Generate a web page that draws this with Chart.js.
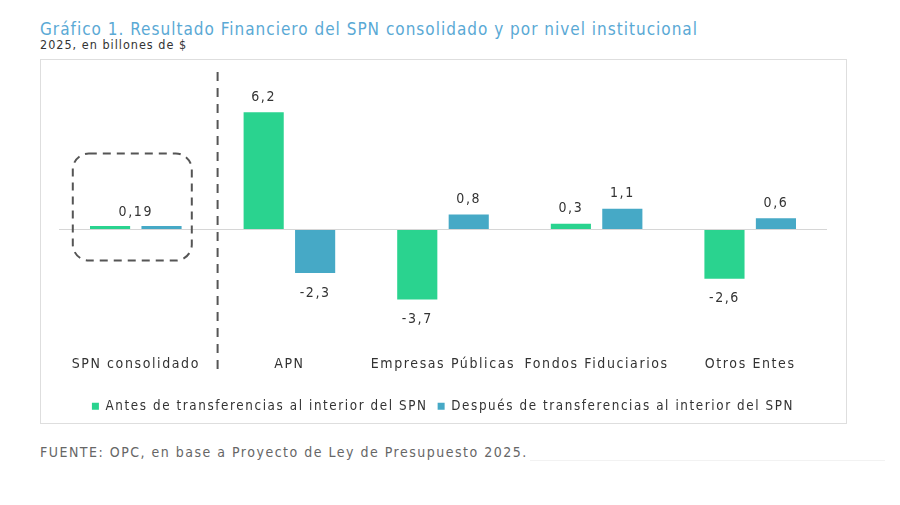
<!DOCTYPE html>
<html><head><meta charset="utf-8">
<script src="https://cdn.jsdelivr.net/npm/chart.js@4.4.1/dist/chart.umd.min.js"></script>
<style>
html,body{margin:0;padding:0;background:#fff;width:900px;height:505px;overflow:hidden;}
body{position:relative;font-family:"Liberation Sans Narrow","DejaVu Sans Condensed","Liberation Sans",sans-serif;}
#title{position:absolute;left:40px;top:19px;font-size:17px;color:#5aa9d5;letter-spacing:1.0px;white-space:nowrap;}
#sub{position:absolute;left:40px;top:37px;font-size:12.5px;color:#333;letter-spacing:1px;white-space:nowrap;}
#box{position:absolute;left:40px;top:59px;width:805px;height:363px;border:1px solid #dedede;}
#foot{position:absolute;left:40px;top:444px;font-size:14px;color:#666;letter-spacing:1.5px;white-space:nowrap;}
#footline{position:absolute;left:530px;top:460px;width:355px;height:1px;background:#f2f2f2;}
#wrap{position:absolute;left:0;top:0;width:900px;height:505px;}
</style></head>
<body>
<div id="title">Gráfico 1. Resultado Financiero del SPN consolidado y por nivel institucional</div>
<div id="sub">2025, en billones de $</div>
<div id="box"></div>
<div id="foot">FUENTE: OPC, en base a Proyecto de Ley de Presupuesto 2025.</div>
<div id="footline"></div>
<div id="wrap"><canvas id="c" width="900" height="505"></canvas></div>
<script>
const categories = ["SPN consolidado", "APN", "Empresas Públicas", "Fondos Fiduciarios", "Otros Entes"];
const antesValues = [0.19, 6.2, -3.7, 0.3, -2.6];
const despuesValues = [0.19, -2.3, 0.8, 1.1, 0.6];
const seriesNames = ["Antes de transferencias al interior del SPN", "Después de transferencias al interior del SPN"];

const GREEN = "#2ad38f", BLUE = "#46a9c6";
const FONT = '"Liberation Sans Narrow","DejaVu Sans Condensed","Liberation Sans",sans-serif';
const fmt = v => String(v).replace('.', ',');

const spacingPlugin = {
  id: 'spacing',
  beforeLayout(chart){ chart.ctx.letterSpacing = '1.6px'; },
  beforeDraw(chart){ chart.ctx.letterSpacing = '1.6px'; }
};

const decoPlugin = {
  id: 'deco',
  afterDatasetsDraw(chart){
    const ctx = chart.ctx, x = chart.scales.x, y = chart.scales.y;
    const y0 = y.getPixelForValue(0);
    ctx.save();
    ctx.font = '14px ' + FONT;
    ctx.fillStyle = '#333';
    ctx.textAlign = 'center';
    ctx.textBaseline = 'middle';
    chart.data.datasets.forEach((ds, di) => {
      const meta = chart.getDatasetMeta(di);
      meta.data.forEach((bar, i) => {
        const v = ds.data[i];
        if (i === 0) {
          if (di === 0) ctx.fillText(fmt(v), x.getPixelForValue(0), bar.y - 14);
          return;
        }
        if (v >= 0) ctx.fillText(fmt(v), bar.x, bar.y - 15);
        else ctx.fillText(fmt(v), bar.x, bar.y + 20);
      });
    });
    ctx.strokeStyle = '#555';
    ctx.lineWidth = 2;
    ctx.setLineDash([9, 7]);
    const sx = x.getPixelForValue(0.5) + 5;
    ctx.beginPath();
    ctx.moveTo(sx, 72); ctx.lineTo(sx, 370);
    ctx.stroke();
    const cx = x.getPixelForValue(0);
    const rx = cx - 63, ry = y0 - 76, rw = 119, rh = 107;
    ctx.setLineDash([8, 6]);
    ctx.beginPath();
    ctx.roundRect(rx, ry, rw, rh, 16);
    ctx.stroke();
    ctx.restore();
  }
};

new Chart(document.getElementById('c'), {
  type: 'bar',
  data: {
    labels: categories,
    datasets: [
      { label: seriesNames[0], data: antesValues, backgroundColor: GREEN, categoryPercentage: 0.67, barPercentage: 0.78 },
      { label: seriesNames[1], data: despuesValues, backgroundColor: BLUE, categoryPercentage: 0.67, barPercentage: 0.78 }
    ]
  },
  options: {
    responsive: false,
    animation: false,
    devicePixelRatio: 1,
    layout: { padding: { left: 59, right: 73, top: 97, bottom: 82 } },
    plugins: {
      legend: {
        position: 'bottom',
        labels: { boxWidth: 7, boxHeight: 7, color: '#333', font: { family: FONT, size: 13.3 }, padding: 10 }
      },
      tooltip: { enabled: false },
      title: { display: false }
    },
    scales: {
      x: {
        grid: { display: false, drawTicks: false },
        border: { display: false },
        ticks: { color: '#333', font: { family: FONT, size: 14 }, padding: 32, maxRotation: 0, autoSkip: false },
        afterFit: s => { s.height = 65.5; }
      },
      y: {
        min: -5, max: 7,
        grid: { drawTicks: false, color: c => c.tick && c.tick.value === 0 ? '#d6d6d6' : 'rgba(0,0,0,0)' },
        border: { display: false },
        ticks: { display: false, stepSize: 1 }
      }
    }
  },
  plugins: [spacingPlugin, decoPlugin]
});
</script>
</body></html>
